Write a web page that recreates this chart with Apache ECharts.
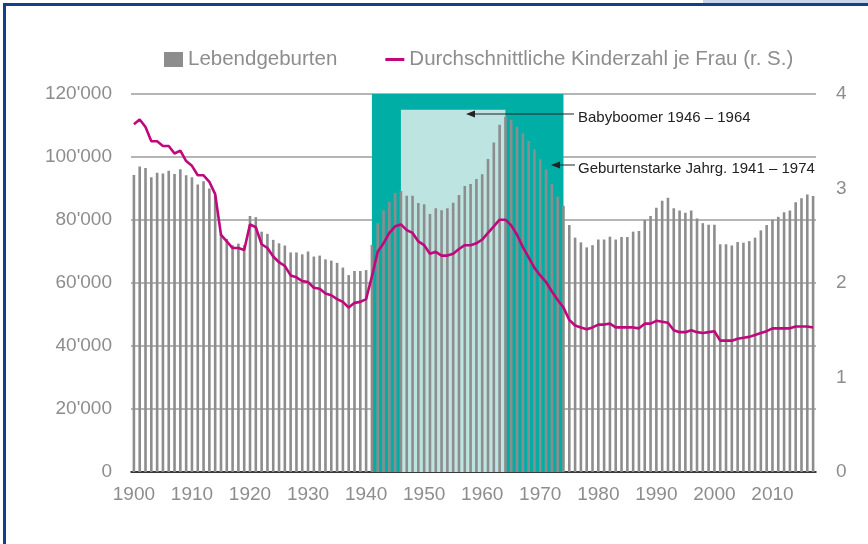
<!DOCTYPE html>
<html>
<head>
<meta charset="utf-8">
<script src="https://cdn.jsdelivr.net/npm/echarts@6/dist/echarts.min.js"></script>
<style>
  html, body { margin: 0; padding: 0; background: #fff; }
  #chart { width: 868px; height: 544px; }
</style>
</head>
<body>
<div id="chart"></div>
<script>
// Jahre 1900 - 2017
const years = [];
for (let y = 1900; y <= 2017; y++) years.push(String(y));

// Lebendgeburten
const births = [
  94300, 97000, 96500, 93600, 95000, 94800, 95600, 94600, 96100, 94200,
  93600, 91300, 92300, 90000, 87800, 75500, 74000, 72000, 72500, 72000,
  81300, 80900, 76300, 75600, 73700, 72600, 71900, 69700, 69700, 69100,
  70000, 68400, 68700, 67500, 67100, 66400, 64900, 62500, 63800, 63800,
  64100, 72100, 79000, 83100, 85800, 88600, 89200, 87700, 87700, 85400,
  85000, 81900, 83700, 83100, 83700, 85500, 87900, 90800, 91400, 93000,
  94500, 99400, 104600, 110200, 112800, 111800, 109600, 107500, 105100, 102500,
  99300, 96100, 91400, 87400, 84500, 78400, 74400, 72900, 71300, 72000,
  73800, 73800, 74700, 73800, 74600, 74600, 76300, 76500, 80000, 81300,
  83900, 86100, 87100, 83700, 83000, 82300, 83000, 80500, 79000, 78500,
  78500, 72300, 72300, 71900, 73000, 72800, 73300, 74400, 76700, 78400,
  80100, 81000, 82500, 83000, 85600, 86900, 88100, 87600
];

// Durchschnittliche Kinderzahl je Frau
const fertility = [
  3.68, 3.73, 3.65, 3.50, 3.50, 3.45, 3.45, 3.37, 3.40, 3.29,
  3.24, 3.14, 3.14, 3.07, 2.94, 2.51, 2.44, 2.37, 2.37, 2.35,
  2.62, 2.59, 2.41, 2.37, 2.28, 2.22, 2.18, 2.08, 2.06, 2.02,
  2.01, 1.95, 1.94, 1.89, 1.87, 1.83, 1.80, 1.74, 1.79, 1.80,
  1.83, 2.07, 2.33, 2.42, 2.53, 2.60, 2.62, 2.56, 2.53, 2.44,
  2.40, 2.31, 2.33, 2.29, 2.29, 2.31, 2.36, 2.40, 2.40, 2.42,
  2.46, 2.53, 2.60, 2.67, 2.67, 2.61, 2.51, 2.38, 2.27, 2.16,
  2.08, 2.01, 1.91, 1.82, 1.74, 1.61, 1.55, 1.53, 1.51, 1.53,
  1.56, 1.56, 1.57, 1.53, 1.53, 1.53, 1.53, 1.52, 1.57, 1.57,
  1.60, 1.59, 1.58, 1.50, 1.48, 1.48, 1.50, 1.48, 1.47, 1.48,
  1.49, 1.39, 1.39, 1.39, 1.41, 1.42, 1.43, 1.45, 1.47, 1.49,
  1.52, 1.52, 1.52, 1.52, 1.54, 1.54, 1.54, 1.53
];

// Zeitraeume fuer die Hinterlegung
const strongYears = ["1941", "1974", 120000];
const boomerYears = ["1946", "1964", 115000];

const font = "Liberation Sans, Arial, sans-serif";
const grey = "#8d8d8d";
const magenta = "#c0087c";

let myChart = echarts.init(document.getElementById("chart"));

let option = {
  animation: false,
  textStyle: { fontFamily: font },
  legend: {
    left: 159,
    top: 44,
    itemWidth: 19,
    itemHeight: 15,
    itemGap: 48,
    textStyle: { color: grey, fontSize: 20.5, fontFamily: font },
    data: [
      { name: "Lebendgeburten", icon: "rect" },
      {
        name: "Durchschnittliche Kinderzahl je Frau (r. S.)",
        // duenner Strich statt Symbol
        icon: "path://M0,0L0.01,0ZM0,6L20,6L20,9L0,9ZM0,15L0.01,15Z",
        itemStyle: { color: magenta },
      },
    ],
  },
  grid: { left: 131, right: 52, top: 94, bottom: 72 },
  xAxis: {
    type: "category",
    data: years,
    boundaryGap: true,
    axisLine: { lineStyle: { color: "#111", width: 1.5 } },
    axisTick: {
      alignWithLabel: true,
      interval: 0,
      length: 5,
      lineStyle: { color: "#111", width: 1 },
    },
    axisLabel: {
      interval: function (i) {
        return i % 10 === 0;
      },
      color: grey,
      fontSize: 19,
      margin: 13,
    },
  },
  yAxis: [
    {
      type: "value",
      min: 0,
      max: 120000,
      interval: 20000,
      axisLine: { show: false },
      axisTick: { show: false },
      splitLine: { lineStyle: { color: "#9c9c9c", width: 1.5 } },
      axisLabel: {
        color: grey,
        fontSize: 19,
        margin: 19,
        formatter: function (v) {
          if (v === 0) return "0";
          let s = String(v);
          return s.slice(0, s.length - 3) + "'" + s.slice(-3);
        },
      },
    },
    {
      type: "value",
      min: 0,
      max: 4,
      interval: 1,
      axisLine: { show: false },
      axisTick: { show: false },
      splitLine: { show: false },
      axisLabel: { color: grey, fontSize: 19, margin: 20 },
    },
  ],
  series: [
    {
      name: "Lebendgeburten",
      type: "bar",
      data: births,
      barWidth: 2.6,
      itemStyle: { color: grey },
      markArea: {
        silent: true,
        data: [
          [
            { xAxis: strongYears[0], yAxis: 0, itemStyle: { color: "#00aea6" } },
            { xAxis: strongYears[1], yAxis: strongYears[2] },
          ],
          [
            { xAxis: boomerYears[0], yAxis: 0, itemStyle: { color: "#bde4e1" } },
            { xAxis: boomerYears[1], yAxis: boomerYears[2] },
          ],
        ],
      },
    },
    {
      name: "Durchschnittliche Kinderzahl je Frau (r. S.)",
      type: "line",
      yAxisIndex: 1,
      data: fertility,
      symbol: "none",
      z: 5,
      lineStyle: { color: magenta, width: 2.6 },
      itemStyle: { color: magenta },
    },
  ],
  graphic: [
    // Rahmen
    { type: "rect", z: 20, shape: { x: 703, y: 0, width: 165, height: 3 }, style: { fill: "#c8d6ea" } },
    { type: "rect", z: 20, shape: { x: 3, y: 3, width: 865, height: 3 }, style: { fill: "#173e88" } },
    { type: "rect", z: 20, shape: { x: 3, y: 3, width: 3, height: 541 }, style: { fill: "#173e88" } },
    // Babyboomer
    { type: "line", z: 20, shape: { x1: 472, y1: 114, x2: 574, y2: 114 }, style: { stroke: "#222", lineWidth: 1 } },
    { type: "polygon", z: 20, shape: { points: [[466, 114], [475, 110.5], [475, 117.5]] }, style: { fill: "#222" } },
    {
      type: "text",
      z: 20,
      left: 578,
      top: 110,
      style: { text: "Babyboomer 1946 – 1964", fill: "#222", font: "15px " + font },
    },
    // Geburtenstarke Jahrgaenge
    { type: "line", z: 20, shape: { x1: 556, y1: 165, x2: 575, y2: 165 }, style: { stroke: "#222", lineWidth: 1 } },
    { type: "polygon", z: 20, shape: { points: [[551, 165], [560, 161.5], [560, 168.5]] }, style: { fill: "#222" } },
    {
      type: "text",
      z: 20,
      left: 578,
      top: 161,
      style: { text: "Geburtenstarke Jahrg. 1941 – 1974", fill: "#222", font: "15px " + font },
    },
  ],
};

myChart.setOption(option);
window.onresize = function () {
  myChart.resize();
};
</script>
</body>
</html>
